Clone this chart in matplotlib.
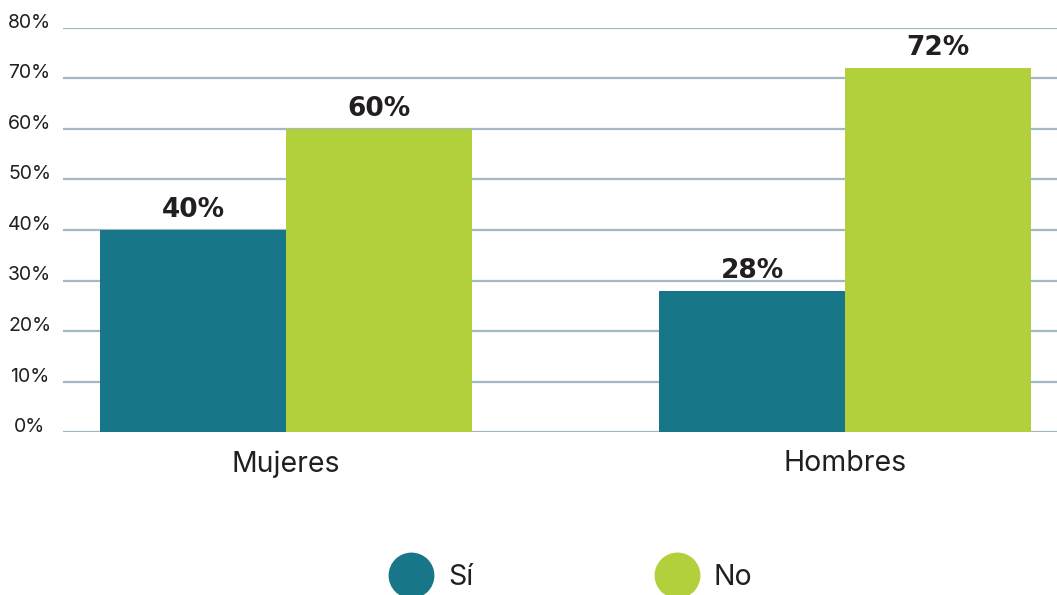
import matplotlib
matplotlib.use("Agg")
import matplotlib.pyplot as plt
from matplotlib.lines import Line2D
from matplotlib.transforms import ScaledTranslation
import numpy as np

categories = ["Mujeres", "Hombres"]
series_names = ["Sí", "No"]
si_values = [40, 28]
no_values = [60, 72]
yticks = [0, 10, 20, 30, 40, 50, 60, 70, 80]
ytick_labels = [f"{v}%" for v in yticks]

teal = "#187689"
green = "#B2D03B"
grid_color = "#A3B8C2"
text_color = "#231F20"

plt.rcParams["font.family"] = ["Inter", "DejaVu Sans"]

W, H = 1057, 595
fig = plt.figure(figsize=(W / 100, H / 100), dpi=100)
ax = fig.add_axes([63 / W, 1 - 432 / H, 1 - 63 / W, (432 - 28) / H])

x = np.arange(len(categories))
w = 0.333
b1 = ax.bar(x - w / 2, si_values, w, color=teal, zorder=3, label=series_names[0])
b2 = ax.bar(x + w / 2, no_values, w, color=green, zorder=3, label=series_names[1])

ax.set_xlim(-0.399, 1.379)
ax.set_ylim(0, 80)
ax.set_yticks(yticks)
ax.set_yticklabels(ytick_labels, fontsize=14, color=text_color, ha="center")
ax.set_xticks(x)
ax.set_xticklabels(categories, fontsize=20.5, color=text_color)
ax.tick_params(axis="y", length=0, pad=24)
ax.tick_params(axis="x", length=0, pad=13)
for lab in ax.get_yticklabels():
    lab.set_transform(lab.get_transform() + ScaledTranslation(0, 7 / 100, fig.dpi_scale_trans))

ax.grid(axis="y", color=grid_color, linewidth=1.6, zorder=0)
ax.grid(axis="x", visible=False)
for s in ax.spines.values():
    s.set_visible(False)

for bars, vals in ((b1, si_values), (b2, no_values)):
    ax.bar_label(bars, labels=[f"{v}%" for v in vals], padding=5, fontsize=19,
                 fontweight="bold", family=["DejaVu Sans"], color=text_color)

handles = [Line2D([], [], marker="o", linestyle="none", markersize=32,
                  markerfacecolor=teal, markeredgecolor=teal),
           Line2D([], [], marker="o", linestyle="none", markersize=32,
                  markerfacecolor=green, markeredgecolor=green)]
fig.legend(handles, series_names, loc="center", bbox_to_anchor=(0.537, 0.03),
           ncol=2, frameon=False, fontsize=20.5, columnspacing=6.15, handletextpad=0.3,
           labelcolor=text_color)

fig.savefig("out.png", dpi=100)
